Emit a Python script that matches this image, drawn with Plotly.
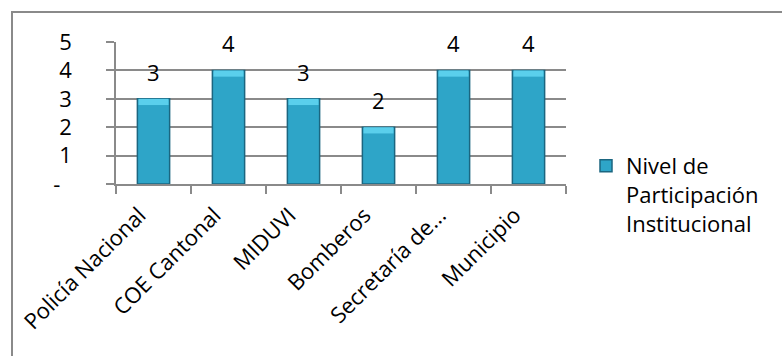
import plotly.graph_objects as go

categories = ["Policía Nacional", "COE Cantonal", "MIDUVI", "Bomberos", "Secretaría de...", "Municipio"]
values = [3, 4, 3, 2, 4, 4]
series_name = "Nivel de<br>Participación<br>Institucional"
y_ticks = [0, 1, 2, 3, 4, 5]
y_ticktext = ["-\u00a0\u00a0", "1", "2", "3", "4", "5"]

FONT = "'Open Sans', Lato, sans-serif"
FS = 22
BEVEL = 0.22

fig = go.Figure()
fig.add_trace(go.Bar(
    x=categories, y=values, name=series_name,
    width=0.43,
    marker=dict(color="#2EA5C8", line=dict(color="#1B6680", width=1.5)),
    showlegend=True, hoverinfo="skip",
))
# top bevel highlight
fig.add_trace(go.Bar(
    x=categories, y=[BEVEL] * len(values), base=[v - BEVEL for v in values], width=0.40,
    marker=dict(color="#5ACFEC", line=dict(width=0)),
    showlegend=False, hoverinfo="skip",
))

for c, v in zip(categories, values):
    fig.add_annotation(x=c, y=v, text=str(v), showarrow=False, yshift=27,
                       font=dict(family=FONT, size=FS, color="#000"))

L, R, T, B = 116, 216, 42, 172
W, H = 782, 356
pw, ph = W - L - R, H - T - B

fig.add_shape(type="rect", xref="paper", yref="paper",
              x0=(12 - L) / pw, x1=2, y0=-3, y1=1 + (T - 12) / ph,
              line=dict(color="#8a8a8a", width=2), fillcolor="rgba(0,0,0,0)", layer="below")

fig.update_layout(
    width=W, height=H,
    margin=dict(l=L, r=R, t=T, b=B),
    paper_bgcolor="white", plot_bgcolor="white",
    font=dict(family=FONT, size=FS, color="#000"),
    barmode="overlay",
    legend=dict(x=(586 - L) / pw, y=1 - (145 - T) / ph, xanchor="left", yanchor="top",
                font=dict(family=FONT, size=FS), valign="top",
                bgcolor="rgba(0,0,0,0)", itemwidth=30),
    xaxis=dict(type="category", tickangle=-45, showline=True, linecolor="#8a8a8a", linewidth=1.5,
               ticks="outside", ticklen=8, tickcolor="#8a8a8a", tickwidth=1.5, tickson="boundaries",
               showgrid=False, tickfont=dict(family=FONT, size=FS),
               ticklabelshift=-14, ticklabelstandoff=8),
    yaxis=dict(range=[0, 5], tickvals=y_ticks, ticktext=y_ticktext, showline=True,
               linecolor="#8a8a8a", linewidth=1.5, showgrid=True, gridcolor="#8a8a8a", gridwidth=1.5,
               ticks="outside", ticklen=8, tickcolor="#8a8a8a", tickwidth=1.5,
               ticklabelstandoff=30, zeroline=False, tickfont=dict(family=FONT, size=FS)),
)

fig.write_html("out.html")
